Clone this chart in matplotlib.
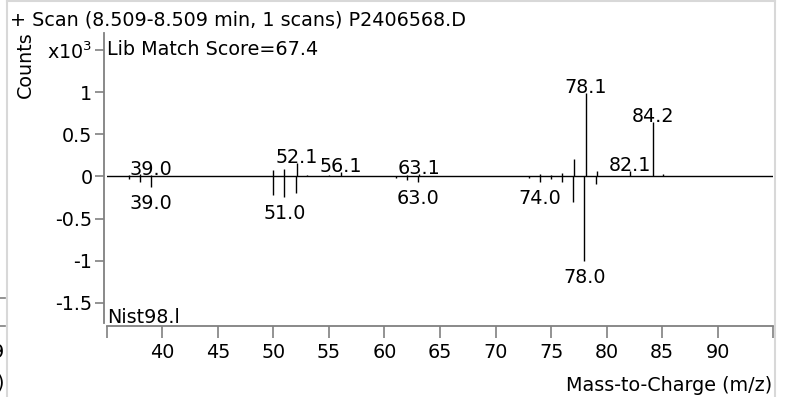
import numpy as np
import matplotlib
matplotlib.use('Agg')
import matplotlib.pyplot as plt
from matplotlib.lines import Line2D

plt.rcParams['font.family'] = ['DejaVu Sans']
plt.rcParams['mathtext.fontset'] = 'dejavusans'
plt.rcParams['mathtext.default'] = 'regular'
fs = 13.8

# sample spectrum (upper, counts x10^3)
sample_mz = [37.0, 38.0, 39.0, 50.0, 51.0, 52.1, 53.0, 55.0, 56.1, 61.0, 62.0,
             63.1, 74.0, 75.0, 76.0, 77.1, 78.1, 79.1, 82.1, 84.2, 85.1]
sample_int = [0.02, 0.03, 0.02, 0.08, 0.09, 0.155, 0.02, 0.02, 0.05, 0.01, 0.02,
              0.03, 0.03, 0.02, 0.04, 0.21, 0.99, 0.06, 0.07, 0.65, 0.03]
sample_labels = ['39.0', '52.1', '56.1', '63.1', '78.1', '82.1', '84.2']

# library spectrum (lower, mirrored)
lib_mz = [37.0, 38.0, 39.0, 50.0, 51.0, 52.0, 61.0, 62.0, 63.0, 73.0, 74.0,
          75.0, 76.0, 77.0, 78.0, 79.0]
lib_int = [-0.03, -0.07, -0.12, -0.22, -0.24, -0.20, -0.02, -0.04, -0.065, -0.02,
           -0.065, -0.03, -0.07, -0.30, -1.00, -0.085]
lib_labels = ['39.0', '51.0', '63.0', '74.0', '78.0']

xticks = [35, 40, 45, 50, 55, 60, 65, 70, 75, 80, 85, 90, 95]
xticklabels = ['', '40', '45', '50', '55', '60', '65', '70', '75', '80', '85', '90', '']
yticks = [-1.5, -1, -0.5, 0, 0.5, 1, 1.5]
yticklabels = ['-1.5', '-1', '-0.5', '0', '0.5', '1', 'x10$^3$']

W, H = 788, 397
fig = plt.figure(figsize=(W/100, H/100), dpi=100)
ax = fig.add_axes([106.7/W, 1-323/H, (773.3-106.7)/W, (323-33)/H])
ax.set_xlim(35, 95)
ax.set_ylim(-1.74, 1.704)

ax.axhline(0, color='black', lw=1)
ax.vlines(sample_mz, 0, sample_int, color='black', lw=1)
ax.vlines(lib_mz, 0, lib_int, color='black', lw=1)

for lab in sample_labels:
    i = sample_mz.index(float(lab))
    ax.annotate(lab, (sample_mz[i], sample_int[i]), xytext=(0, 0),
                textcoords='offset points', ha='center', va='baseline', fontsize=fs)
for lab in lib_labels:
    i = lib_mz.index(float(lab))
    ax.annotate(lab, (lib_mz[i], lib_int[i]), xytext=(0, -5),
                textcoords='offset points', ha='center', va='top', fontsize=fs)

for s in ['top', 'right']:
    ax.spines[s].set_visible(False)
ax.spines['left'].set_position(('outward', 2.3))
ax.spines['bottom'].set_position(('outward', 2.2))
for s in ['left', 'bottom']:
    ax.spines[s].set_color('#808080')
    ax.spines[s].set_linewidth(1.3)

ax.set_xticks(xticks)
ax.set_xticklabels(xticklabels, fontsize=fs)
ax.set_yticks(yticks)
ax.set_yticklabels(yticklabels, fontsize=fs)
ax.tick_params(axis='x', direction='out', length=8.6, width=1.2, color='#808080', pad=3.5)
ax.tick_params(axis='y', direction='out', length=6.5, width=1.2, color='#808080', pad=1.5)

fig.text(10/W, 1-26/H, '+ Scan (8.509-8.509 min, 1 scans) P2406568.D',
         fontsize=fs, ha='left', va='baseline')
fig.text(107/W, 1-55/H, 'Lib Match Score=67.4', fontsize=fs, ha='left', va='baseline')
fig.text(107/W, 1-322.7/H, 'Nist98.l', fontsize=fs, ha='left', va='baseline')
fig.text(25/W, 1-65/H, 'Counts', fontsize=fs, rotation=90, ha='center', va='center')
fig.text(772/W, 1-390.7/H, 'Mass-to-Charge (m/z)', fontsize=fs, ha='right', va='baseline')

# panel frame and cut-off neighbour pieces
fig.add_artist(Line2D([7.3/W, 7.3/W], [0, 1], color='#d8d8d8', lw=1.5))
fig.add_artist(Line2D([775/W, 775/W], [0, 1], color='#d8d8d8', lw=1.5))
fig.add_artist(Line2D([7.3/W, 775/W], [1-1/H, 1-1/H], color='#d8d8d8', lw=1.5))
fig.add_artist(Line2D([0, 5/W], [1-298/H, 1-298/H], color='#808080', lw=1.2))
fig.add_artist(Line2D([0, 5/W], [1-326/H, 1-326/H], color='#808080', lw=1.2))
fig.text(4/W, 1-353/H, '9', fontsize=fs, ha='right', va='center')
fig.text(4/W, 1-383/H, ')', fontsize=fs, ha='right', va='center')

fig.savefig('out.png', dpi=100)
